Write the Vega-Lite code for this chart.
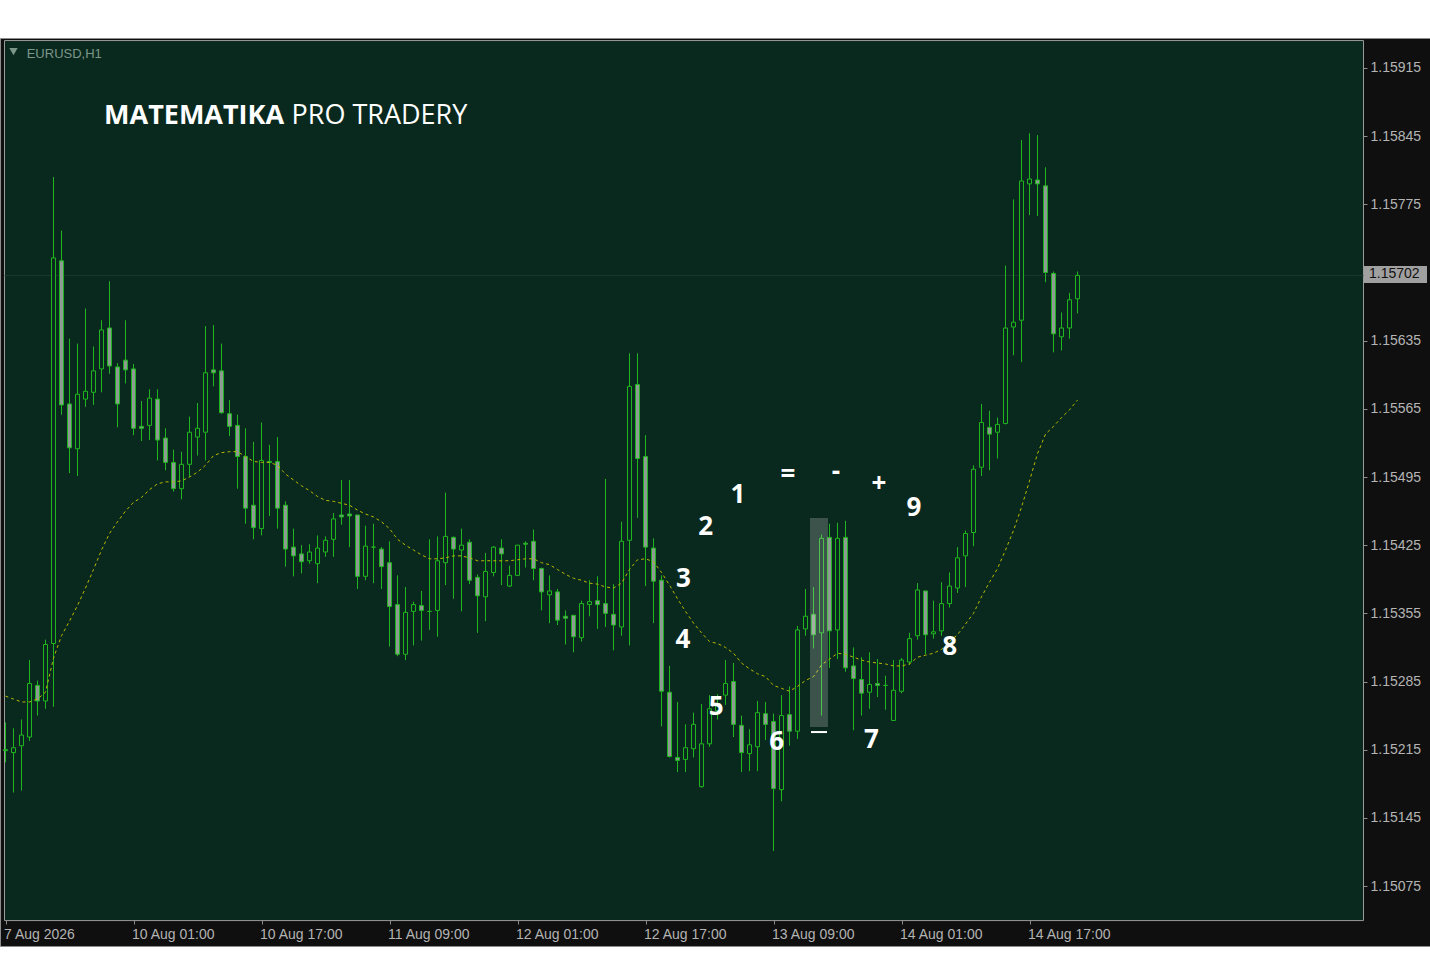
{
  "$schema": "https://vega.github.io/schema/vega-lite/v6.json",
  "width": 1430,
  "height": 908,
  "autosize": {"type": "none"},
  "padding": {"top": 38, "left": 0, "right": 0, "bottom": 29},
  "background": "#ffffff",
  "config": {"view": {"fill": "#0f0f0f", "stroke": "#8c8c8c", "strokeWidth": 1}},
  "datasets": {
    "bars": [
      {"i":0,"o":1.15215,"h":1.15243,"l":1.15202,"c":1.15214,"ma":1.15270},
      {"i":1,"o":1.15212,"h":1.15237,"l":1.15171,"c":1.15217,"ma":1.15267},
      {"i":2,"o":1.15219,"h":1.15246,"l":1.15173,"c":1.15230,"ma":1.15264},
      {"i":3,"o":1.15228,"h":1.15307,"l":1.15224,"c":1.15283,"ma":1.15264},
      {"i":4,"o":1.15281,"h":1.15286,"l":1.15250,"c":1.15265,"ma":1.15267},
      {"i":5,"o":1.15265,"h":1.15328,"l":1.15257,"c":1.15323,"ma":1.15274},
      {"i":6,"o":1.15324,"h":1.15803,"l":1.15259,"c":1.15720,"ma":1.15309},
      {"i":7,"o":1.15717,"h":1.15748,"l":1.15559,"c":1.15569,"ma":1.15332},
      {"i":8,"o":1.15570,"h":1.15637,"l":1.15499,"c":1.15525,"ma":1.15347},
      {"i":9,"o":1.15524,"h":1.15632,"l":1.15496,"c":1.15580,"ma":1.15363},
      {"i":10,"o":1.15575,"h":1.15668,"l":1.15567,"c":1.15583,"ma":1.15381},
      {"i":11,"o":1.15582,"h":1.15629,"l":1.15569,"c":1.15604,"ma":1.15400},
      {"i":12,"o":1.15606,"h":1.15656,"l":1.15582,"c":1.15646,"ma":1.15420},
      {"i":13,"o":1.15648,"h":1.15696,"l":1.15601,"c":1.15609,"ma":1.15437},
      {"i":14,"o":1.15608,"h":1.15612,"l":1.15546,"c":1.15570,"ma":1.15449},
      {"i":15,"o":1.15615,"h":1.15656,"l":1.15591,"c":1.15605,"ma":1.15460},
      {"i":16,"o":1.15606,"h":1.15611,"l":1.15538,"c":1.15545,"ma":1.15469},
      {"i":17,"o":1.15547,"h":1.15573,"l":1.15532,"c":1.15545,"ma":1.15474},
      {"i":18,"o":1.15548,"h":1.15585,"l":1.15533,"c":1.15576,"ma":1.15482},
      {"i":19,"o":1.15575,"h":1.15585,"l":1.15512,"c":1.15533,"ma":1.15488},
      {"i":20,"o":1.15535,"h":1.15545,"l":1.15502,"c":1.15510,"ma":1.15490},
      {"i":21,"o":1.15510,"h":1.15523,"l":1.15480,"c":1.15483,"ma":1.15490},
      {"i":22,"o":1.15483,"h":1.15521,"l":1.15472,"c":1.15508,"ma":1.15491},
      {"i":23,"o":1.15508,"h":1.15557,"l":1.15495,"c":1.15541,"ma":1.15495},
      {"i":24,"o":1.15536,"h":1.15571,"l":1.15517,"c":1.15545,"ma":1.15500},
      {"i":25,"o":1.15541,"h":1.15650,"l":1.15512,"c":1.15602,"ma":1.15507},
      {"i":26,"o":1.15605,"h":1.15651,"l":1.15588,"c":1.15602,"ma":1.15517},
      {"i":27,"o":1.15604,"h":1.15632,"l":1.15560,"c":1.15561,"ma":1.15520},
      {"i":28,"o":1.15560,"h":1.15574,"l":1.15537,"c":1.15547,"ma":1.15521},
      {"i":29,"o":1.15548,"h":1.15559,"l":1.15483,"c":1.15516,"ma":1.15521},
      {"i":30,"o":1.15516,"h":1.15545,"l":1.15447,"c":1.15463,"ma":1.15516},
      {"i":31,"o":1.15466,"h":1.15531,"l":1.15431,"c":1.15443,"ma":1.15511},
      {"i":32,"o":1.15442,"h":1.15551,"l":1.15435,"c":1.15512,"ma":1.15510},
      {"i":33,"o":1.15511,"h":1.15528,"l":1.15455,"c":1.15510,"ma":1.15510},
      {"i":34,"o":1.15511,"h":1.15536,"l":1.15442,"c":1.15463,"ma":1.15507},
      {"i":35,"o":1.15466,"h":1.15470,"l":1.15403,"c":1.15421,"ma":1.15498},
      {"i":36,"o":1.15423,"h":1.15442,"l":1.15393,"c":1.15414,"ma":1.15492},
      {"i":37,"o":1.15416,"h":1.15425,"l":1.15396,"c":1.15408,"ma":1.15486},
      {"i":38,"o":1.15409,"h":1.15426,"l":1.15406,"c":1.15418,"ma":1.15481},
      {"i":39,"o":1.15406,"h":1.15435,"l":1.15386,"c":1.15422,"ma":1.15475},
      {"i":40,"o":1.15418,"h":1.15434,"l":1.15413,"c":1.15430,"ma":1.15471},
      {"i":41,"o":1.15431,"h":1.15458,"l":1.15413,"c":1.15452,"ma":1.15470},
      {"i":42,"o":1.15456,"h":1.15492,"l":1.15446,"c":1.15454,"ma":1.15468},
      {"i":43,"o":1.15457,"h":1.15492,"l":1.15423,"c":1.15455,"ma":1.15466},
      {"i":44,"o":1.15456,"h":1.15456,"l":1.15380,"c":1.15393,"ma":1.15461},
      {"i":45,"o":1.15393,"h":1.15445,"l":1.15389,"c":1.15424,"ma":1.15457},
      {"i":46,"o":1.15423,"h":1.15447,"l":1.15386,"c":1.15423,"ma":1.15454},
      {"i":47,"o":1.15421,"h":1.15423,"l":1.15380,"c":1.15403,"ma":1.15449},
      {"i":48,"o":1.15407,"h":1.15429,"l":1.15321,"c":1.15362,"ma":1.15442},
      {"i":49,"o":1.15364,"h":1.15394,"l":1.15311,"c":1.15313,"ma":1.15431},
      {"i":50,"o":1.15313,"h":1.15382,"l":1.15307,"c":1.15356,"ma":1.15425},
      {"i":51,"o":1.15357,"h":1.15367,"l":1.15322,"c":1.15364,"ma":1.15420},
      {"i":52,"o":1.15363,"h":1.15378,"l":1.15327,"c":1.15358,"ma":1.15415},
      {"i":53,"o":1.15357,"h":1.15431,"l":1.15338,"c":1.15357,"ma":1.15411},
      {"i":54,"o":1.15358,"h":1.15434,"l":1.15331,"c":1.15409,"ma":1.15411},
      {"i":55,"o":1.15407,"h":1.15479,"l":1.15384,"c":1.15434,"ma":1.15412},
      {"i":56,"o":1.15433,"h":1.15434,"l":1.15370,"c":1.15421,"ma":1.15414},
      {"i":57,"o":1.15420,"h":1.15442,"l":1.15357,"c":1.15425,"ma":1.15414},
      {"i":58,"o":1.15428,"h":1.15431,"l":1.15385,"c":1.15389,"ma":1.15412},
      {"i":59,"o":1.15392,"h":1.15395,"l":1.15335,"c":1.15373,"ma":1.15409},
      {"i":60,"o":1.15372,"h":1.15417,"l":1.15347,"c":1.15398,"ma":1.15409},
      {"i":61,"o":1.15397,"h":1.15424,"l":1.15393,"c":1.15423,"ma":1.15409},
      {"i":62,"o":1.15422,"h":1.15431,"l":1.15384,"c":1.15416,"ma":1.15409},
      {"i":63,"o":1.15383,"h":1.15404,"l":1.15382,"c":1.15394,"ma":1.15409},
      {"i":64,"o":1.15394,"h":1.15425,"l":1.15394,"c":1.15425,"ma":1.15410},
      {"i":65,"o":1.15427,"h":1.15429,"l":1.15402,"c":1.15426,"ma":1.15411},
      {"i":66,"o":1.15429,"h":1.15441,"l":1.15389,"c":1.15401,"ma":1.15411},
      {"i":67,"o":1.15401,"h":1.15402,"l":1.15358,"c":1.15377,"ma":1.15407},
      {"i":68,"o":1.15374,"h":1.15394,"l":1.15345,"c":1.15378,"ma":1.15405},
      {"i":69,"o":1.15377,"h":1.15380,"l":1.15343,"c":1.15348,"ma":1.15400},
      {"i":70,"o":1.15352,"h":1.15358,"l":1.15323,"c":1.15350,"ma":1.15395},
      {"i":71,"o":1.15353,"h":1.15353,"l":1.15315,"c":1.15331,"ma":1.15391},
      {"i":72,"o":1.15330,"h":1.15368,"l":1.15326,"c":1.15365,"ma":1.15389},
      {"i":73,"o":1.15364,"h":1.15389,"l":1.15352,"c":1.15367,"ma":1.15386},
      {"i":74,"o":1.15368,"h":1.15393,"l":1.15339,"c":1.15364,"ma":1.15385},
      {"i":75,"o":1.15365,"h":1.15493,"l":1.15341,"c":1.15355,"ma":1.15382},
      {"i":76,"o":1.15354,"h":1.15385,"l":1.15317,"c":1.15343,"ma":1.15381},
      {"i":77,"o":1.15341,"h":1.15449,"l":1.15332,"c":1.15429,"ma":1.15386},
      {"i":78,"o":1.15430,"h":1.15622,"l":1.15322,"c":1.15588,"ma":1.15400},
      {"i":79,"o":1.15590,"h":1.15622,"l":1.15453,"c":1.15514,"ma":1.15410},
      {"i":80,"o":1.15516,"h":1.15538,"l":1.15383,"c":1.15423,"ma":1.15411},
      {"i":81,"o":1.15422,"h":1.15432,"l":1.15345,"c":1.15388,"ma":1.15408},
      {"i":82,"o":1.15389,"h":1.15394,"l":1.15239,"c":1.15275,"ma":1.15397},
      {"i":83,"o":1.15274,"h":1.15301,"l":1.15207,"c":1.15208,"ma":1.15384},
      {"i":84,"o":1.15207,"h":1.15264,"l":1.15192,"c":1.15204,"ma":1.15370},
      {"i":85,"o":1.15205,"h":1.15241,"l":1.15192,"c":1.15217,"ma":1.15357},
      {"i":86,"o":1.15216,"h":1.15253,"l":1.15207,"c":1.15241,"ma":1.15345},
      {"i":87,"o":1.15177,"h":1.15262,"l":1.15176,"c":1.15221,"ma":1.15335},
      {"i":88,"o":1.15221,"h":1.15271,"l":1.15218,"c":1.15257,"ma":1.15326},
      {"i":89,"o":1.15255,"h":1.15272,"l":1.15246,"c":1.15262,"ma":1.15324},
      {"i":90,"o":1.15271,"h":1.15307,"l":1.15261,"c":1.15283,"ma":1.15320},
      {"i":91,"o":1.15285,"h":1.15304,"l":1.15228,"c":1.15241,"ma":1.15314},
      {"i":92,"o":1.15240,"h":1.15250,"l":1.15192,"c":1.15212,"ma":1.15304},
      {"i":93,"o":1.15211,"h":1.15236,"l":1.15193,"c":1.15220,"ma":1.15298},
      {"i":94,"o":1.15218,"h":1.15265,"l":1.15193,"c":1.15253,"ma":1.15293},
      {"i":95,"o":1.15252,"h":1.15264,"l":1.15225,"c":1.15241,"ma":1.15290},
      {"i":96,"o":1.15244,"h":1.15252,"l":1.15111,"c":1.15175,"ma":1.15281},
      {"i":97,"o":1.15174,"h":1.15271,"l":1.15162,"c":1.15250,"ma":1.15278},
      {"i":98,"o":1.15251,"h":1.15280,"l":1.15219,"c":1.15234,"ma":1.15275},
      {"i":99,"o":1.15234,"h":1.15342,"l":1.15226,"c":1.15338,"ma":1.15280},
      {"i":100,"o":1.15339,"h":1.15380,"l":1.15332,"c":1.15352,"ma":1.15286},
      {"i":101,"o":1.15354,"h":1.15382,"l":1.15319,"c":1.15333,"ma":1.15290},
      {"i":102,"o":1.15335,"h":1.15436,"l":1.15250,"c":1.15432,"ma":1.15302},
      {"i":103,"o":1.15433,"h":1.15447,"l":1.15299,"c":1.15337,"ma":1.15308},
      {"i":104,"o":1.15338,"h":1.15448,"l":1.15308,"c":1.15432,"ma":1.15314},
      {"i":105,"o":1.15433,"h":1.15450,"l":1.15295,"c":1.15299,"ma":1.15313},
      {"i":106,"o":1.15301,"h":1.15320,"l":1.15235,"c":1.15288,"ma":1.15310},
      {"i":107,"o":1.15287,"h":1.15310,"l":1.15250,"c":1.15273,"ma":1.15307},
      {"i":108,"o":1.15274,"h":1.15315,"l":1.15257,"c":1.15282,"ma":1.15305},
      {"i":109,"o":1.15283,"h":1.15308,"l":1.15269,"c":1.15281,"ma":1.15304},
      {"i":110,"o":1.15281,"h":1.15291,"l":1.15256,"c":1.15281,"ma":1.15303},
      {"i":111,"o":1.15245,"h":1.15307,"l":1.15245,"c":1.15276,"ma":1.15301},
      {"i":112,"o":1.15275,"h":1.15309,"l":1.15273,"c":1.15307,"ma":1.15301},
      {"i":113,"o":1.15305,"h":1.15335,"l":1.15302,"c":1.15329,"ma":1.15303},
      {"i":114,"o":1.15332,"h":1.15386,"l":1.15328,"c":1.15379,"ma":1.15310},
      {"i":115,"o":1.15378,"h":1.15378,"l":1.15313,"c":1.15333,"ma":1.15312},
      {"i":116,"o":1.15334,"h":1.15368,"l":1.15329,"c":1.15336,"ma":1.15314},
      {"i":117,"o":1.15337,"h":1.15387,"l":1.15332,"c":1.15365,"ma":1.15318},
      {"i":118,"o":1.15365,"h":1.15397,"l":1.15361,"c":1.15383,"ma":1.15326},
      {"i":119,"o":1.15381,"h":1.15423,"l":1.15376,"c":1.15412,"ma":1.15333},
      {"i":120,"o":1.15414,"h":1.15440,"l":1.15382,"c":1.15437,"ma":1.15344},
      {"i":121,"o":1.15438,"h":1.15507,"l":1.15424,"c":1.15503,"ma":1.15355},
      {"i":122,"o":1.15505,"h":1.15570,"l":1.15496,"c":1.15551,"ma":1.15372},
      {"i":123,"o":1.15546,"h":1.15563,"l":1.15502,"c":1.15539,"ma":1.15387},
      {"i":124,"o":1.15541,"h":1.15556,"l":1.15514,"c":1.15549,"ma":1.15401},
      {"i":125,"o":1.15550,"h":1.15712,"l":1.15549,"c":1.15648,"ma":1.15420},
      {"i":126,"o":1.15649,"h":1.15780,"l":1.15620,"c":1.15654,"ma":1.15440},
      {"i":127,"o":1.15656,"h":1.15841,"l":1.15613,"c":1.15799,"ma":1.15464},
      {"i":128,"o":1.15796,"h":1.15848,"l":1.15764,"c":1.15801,"ma":1.15491},
      {"i":129,"o":1.15800,"h":1.15846,"l":1.15763,"c":1.15796,"ma":1.15519},
      {"i":130,"o":1.15794,"h":1.15813,"l":1.15695,"c":1.15705,"ma":1.15539},
      {"i":131,"o":1.15704,"h":1.15706,"l":1.15623,"c":1.15642,"ma":1.15547},
      {"i":132,"o":1.15639,"h":1.15664,"l":1.15625,"c":1.15648,"ma":1.15556},
      {"i":133,"o":1.15648,"h":1.15684,"l":1.15637,"c":1.15677,"ma":1.15564},
      {"i":134,"o":1.15678,"h":1.15706,"l":1.15663,"c":1.15702,"ma":1.15574}
    ],
    "notes": [
      {"t":"1","i":91.56,"p":1.154765},
      {"t":"2","i":87.53,"p":1.154436},
      {"t":"3","i":84.73,"p":1.153905},
      {"t":"4","i":84.69,"p":1.153276},
      {"t":"5","i":88.85,"p":1.152585},
      {"t":"6","i":96.4,"p":1.152225},
      {"t":"7","i":108.23,"p":1.152249},
      {"t":"8","i":118.03,"p":1.153204},
      {"t":"9","i":113.56,"p":1.154631},
      {"t":"=","i":97.81,"p":1.15497},
      {"t":"-","i":103.81,"p":1.155001},
      {"t":"+","i":109.19,"p":1.154878}
    ]
  },
  "layer": [
    {
      "data": {"values": [{}]},
      "mark": {"type": "rect", "fill": "#0a291e", "stroke": "#9a9a9a", "strokeWidth": 1},
      "encoding": {
        "x": {"datum": -0.125, "type": "quantitative",
          "scale": {"domain": [-0.6875, 178.0625], "nice": false, "zero": false, "padding": 0},
          "axis": {"orient": "bottom", "offset": -26, "values": [0,16,32,48,64,80,96,112,128],
            "labelExpr": "['7 Aug 2026','10 Aug 01:00','10 Aug 17:00','11 Aug 09:00','12 Aug 01:00','12 Aug 17:00','13 Aug 09:00','14 Aug 01:00','14 Aug 17:00'][round(datum.value/16)]",
            "labelAlign": "left", "labelFlush": false, "labelOverlap": false, "labelColor": "#b4b4b4",
            "labelFont": "Liberation Sans", "labelFontSize": 14, "labelPadding": 3, "labelOffset": -2,
            "tickColor": "#8c8c8c", "tickSize": 4, "domain": false, "grid": false, "title": null}},
        "x2": {"datum": 169.75},
        "y": {"datum": 1.159432, "type": "quantitative",
          "scale": {"domain": [1.150134, 1.159458], "nice": false, "zero": false, "padding": 0},
          "axis": {"orient": "right", "offset": -67,
            "values": [1.15075,1.15145,1.15215,1.15285,1.15355,1.15425,1.15495,1.15565,1.15635,1.15775,1.15845,1.15915],
            "format": ".5f", "labelFlush": false, "labelOverlap": false, "labelColor": "#b4b4b4",
            "labelFont": "Liberation Sans", "labelFontSize": 14, "labelPadding": 3,
            "tickColor": "#8c8c8c", "tickSize": 4, "domain": false, "grid": false, "title": null}},
        "y2": {"datum": 1.150395}
      }
    },
    {
      "data": {"values": [{}]},
      "mark": {"type": "rule", "color": "#1c3b2e", "strokeWidth": 1},
      "encoding": {
        "x": {"datum": -0.125, "type": "quantitative"},
        "x2": {"datum": 169.75},
        "y": {"datum": 1.15702, "type": "quantitative"}
      }
    },
    {
      "data": {"name": "bars"},
      "mark": {"type": "rule", "color": "#1fb51f", "strokeWidth": 1},
      "encoding": {
        "x": {"field": "i", "type": "quantitative"},
        "y": {"field": "l", "type": "quantitative"},
        "y2": {"field": "h"}
      }
    },
    {
      "data": {"name": "bars"},
      "mark": {"type": "bar", "orient": "vertical", "width": 4, "stroke": "#1fb51f", "strokeWidth": 1},
      "encoding": {
        "x": {"field": "i", "type": "quantitative"},
        "y": {"field": "o", "type": "quantitative"},
        "y2": {"field": "c"},
        "fill": {"condition": {"test": "datum.c < datum.o", "value": "#8d9b93"}, "value": "#0a291e"}
      }
    },
    {
      "data": {"name": "bars"},
      "mark": {"type": "line", "color": "#b8b800", "strokeWidth": 1, "strokeDash": [3, 3]},
      "encoding": {
        "x": {"field": "i", "type": "quantitative"},
        "y": {"field": "ma", "type": "quantitative"}
      }
    },
    {
      "data": {"values": [{}]},
      "mark": {"type": "rect", "fill": "#ffffff", "opacity": 0.2},
      "encoding": {
        "x": {"datum": 100.56, "type": "quantitative"},
        "x2": {"datum": 102.81},
        "y": {"datum": 1.154529, "type": "quantitative"},
        "y2": {"datum": 1.152382}
      }
    },
    {
      "data": {"values": [{}]},
      "mark": {"type": "rule", "color": "#ffffff", "strokeWidth": 2},
      "encoding": {
        "x": {"datum": 100.69, "type": "quantitative"},
        "x2": {"datum": 102.69},
        "y": {"datum": 1.152331, "type": "quantitative"}
      }
    },
    {
      "data": {"name": "notes"},
      "mark": {"type": "text", "color": "#ffffff", "font": "Open Sans", "fontWeight": "bold", "fontSize": 26, "align": "center", "baseline": "middle"},
      "encoding": {
        "x": {"field": "i", "type": "quantitative"},
        "y": {"field": "p", "type": "quantitative"},
        "text": {"field": "t"}
      }
    },
    {
      "data": {"values": [{}]},
      "mark": {"type": "text", "text": "MATEMATIKA", "color": "#ffffff", "font": "Open Sans", "fontWeight": "bold", "fontSize": 27, "align": "left", "baseline": "alphabetic"},
      "encoding": {
        "x": {"datum": 12.32, "type": "quantitative"},
        "y": {"datum": 1.158575, "type": "quantitative"}
      }
    },
    {
      "data": {"values": [{}]},
      "mark": {"type": "text", "text": "PRO TRADERY", "color": "#ffffff", "font": "Open Sans", "fontWeight": "normal", "fontSize": 27, "align": "left", "baseline": "alphabetic"},
      "encoding": {
        "x": {"datum": 35.75, "type": "quantitative"},
        "y": {"datum": 1.158575, "type": "quantitative"}
      }
    },
    {
      "data": {"values": [{}]},
      "mark": {"type": "text", "text": "EURUSD,H1", "color": "#7d968a", "font": "Liberation Sans", "fontSize": 13, "align": "left", "baseline": "alphabetic"},
      "encoding": {
        "x": {"datum": 2.65, "type": "quantitative"},
        "y": {"datum": 1.159252, "type": "quantitative"}
      }
    },
    {
      "data": {"values": [{}]},
      "mark": {"type": "point", "shape": "triangle-down", "filled": true, "color": "#7d968a", "size": 70, "opacity": 1},
      "encoding": {
        "x": {"datum": 1.0, "type": "quantitative"},
        "y": {"datum": 1.159319, "type": "quantitative"}
      }
    },
    {
      "data": {"values": [{}]},
      "mark": {"type": "rect", "fill": "#a0a0a0"},
      "encoding": {
        "x": {"datum": 169.8125, "type": "quantitative"},
        "x2": {"datum": 177.69},
        "y": {"datum": 1.157116, "type": "quantitative"},
        "y2": {"datum": 1.156942}
      }
    },
    {
      "data": {"values": [{}]},
      "mark": {"type": "text", "text": "1.15702", "color": "#111111", "font": "Liberation Sans", "fontSize": 14, "align": "left", "baseline": "middle"},
      "encoding": {
        "x": {"datum": 170.44, "type": "quantitative"},
        "y": {"datum": 1.15703, "type": "quantitative"}
      }
    }
  ]
}
